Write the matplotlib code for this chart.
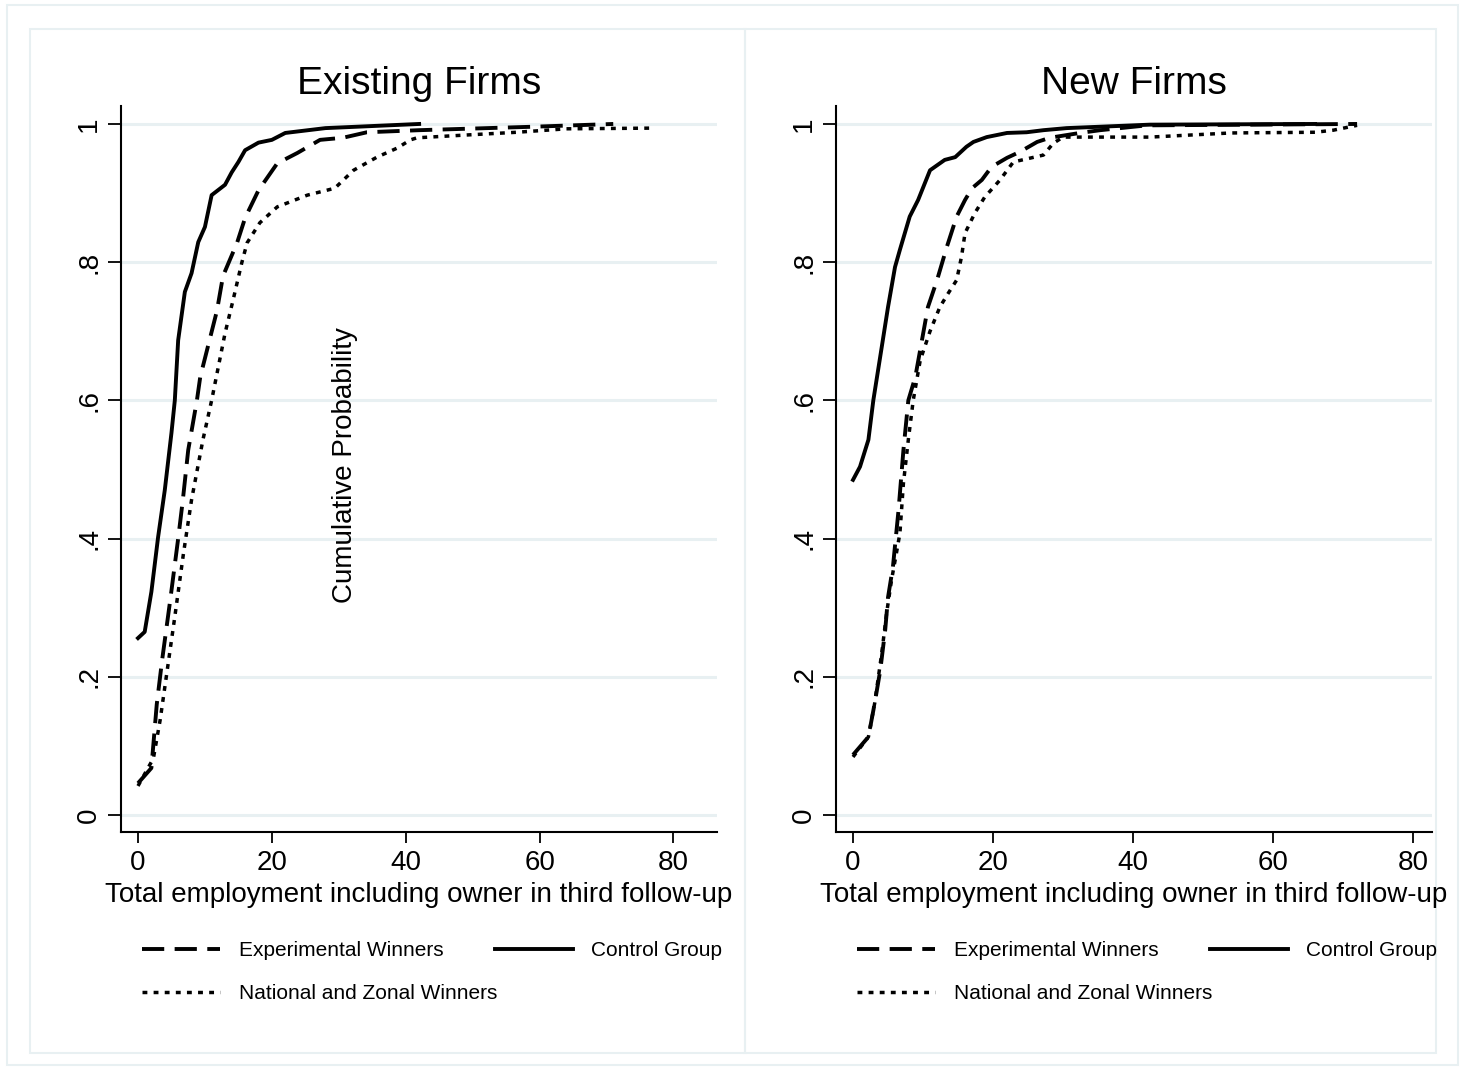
import matplotlib
matplotlib.use("Agg")
import matplotlib.pyplot as plt
from matplotlib.patches import Rectangle

plt.rcParams['font.family'] = ['Liberation Sans', 'DejaVu Sans']
plt.rcParams['lines.scale_dashes'] = False

# ---- data ----
ex_ctrl_x = [0, 1, 2, 3, 4, 5, 5.5, 6, 7, 8, 9, 10, 11, 13, 14, 15, 16, 18, 20, 22, 28, 42]
ex_ctrl_y = [0.256, 0.265, 0.323, 0.402, 0.47, 0.553, 0.60, 0.687, 0.757, 0.784, 0.829, 0.851,
             0.897, 0.912, 0.93, 0.945, 0.962, 0.973, 0.977, 0.987, 0.994, 1.0]
ex_exp_x = [0, 2, 2.8, 3.6, 4.8, 6, 6.7, 7.5, 8.8, 9.3, 11.8, 12.7, 14.8, 16, 18, 20.8, 23.8,
            27.2, 30.6, 34.2, 42, 59, 71]
ex_exp_y = [0.046, 0.068, 0.16, 0.224, 0.31, 0.40, 0.456, 0.528, 0.60, 0.634, 0.73, 0.78, 0.828,
            0.864, 0.904, 0.943, 0.958, 0.977, 0.98, 0.988, 0.991, 0.996, 1.0]
ex_nat_x = [0, 2.3, 3.3, 4.3, 5.5, 6.8, 8, 9.7, 11, 13, 14.2, 15.5, 16.3, 18.2, 20.8, 25.3, 29.4,
            32.2, 35.7, 38.7, 40.7, 41.7, 49, 56.6, 64, 77]
ex_nat_y = [0.042, 0.082, 0.137, 0.205, 0.287, 0.379, 0.456, 0.543, 0.60, 0.697, 0.745, 0.799,
            0.828, 0.857, 0.88, 0.897, 0.907, 0.933, 0.952, 0.965, 0.977, 0.98, 0.984, 0.988,
            0.993, 0.994]

new_ctrl_x = [0, 1, 2.2, 2.9, 4.1, 5, 6, 6.7, 8.1, 9.3, 11, 13.1, 14.6, 16.2, 17.2, 19.1, 22,
              24.8, 27.2, 30.5, 42.4, 66]
new_ctrl_y = [0.485, 0.504, 0.543, 0.60, 0.677, 0.735, 0.793, 0.818, 0.866, 0.89, 0.933, 0.948,
              0.952, 0.967, 0.974, 0.981, 0.987, 0.988, 0.991, 0.994, 0.999, 1.0]
new_exp_x = [0, 2.2, 3.1, 3.9, 4.6, 5, 5.7, 6.5, 7.2, 7.9, 8.9, 10.7, 12, 13.4, 14.8, 16, 17,
             18.4, 19.8, 22, 23.9, 26.3, 28.1, 32.4, 35.3, 42, 72]
new_exp_y = [0.087, 0.113, 0.162, 0.21, 0.268, 0.315, 0.359, 0.441, 0.528, 0.60, 0.634, 0.735,
             0.774, 0.822, 0.866, 0.89, 0.907, 0.919, 0.938, 0.951, 0.96, 0.974, 0.98, 0.987,
             0.991, 0.998, 1.0]
new_nat_x = [0, 2.2, 3.1, 4.1, 4.8, 5.5, 6.2, 6.7, 7.2, 7.9, 8.6, 9.6, 11, 12.4, 13.6, 14.8,
             15.5, 16, 17.4, 18.8, 21, 22.9, 27.2, 28.6, 30, 42.4, 54, 66, 68.6, 72]
new_nat_y = [0.084, 0.113, 0.162, 0.234, 0.292, 0.34, 0.379, 0.408, 0.48, 0.543, 0.60, 0.658,
             0.70, 0.735, 0.755, 0.774, 0.808, 0.842, 0.871, 0.894, 0.919, 0.945, 0.955, 0.972,
             0.981, 0.981, 0.987, 0.988, 0.991, 0.998]

yticks = [0, 0.2, 0.4, 0.6, 0.8, 1]
ytick_labels = ['0', '.2', '.4', '.6', '.8', '1']
xticks = [0, 20, 40, 60, 80]
lab_exp = 'Experimental Winners'
lab_ctrl = 'Control Group'
lab_nat = 'National and Zonal Winners'

W, H = 1465, 1070
grid_col = '#e8f0f2'
dash_style = (0, (16, 7.5))
dot_style = (0, (3.5, 4.5))

fig = plt.figure(figsize=(W / 100, H / 100), dpi=100)


def frame(x0, y0, x1, y1):
    fig.patches.append(Rectangle((x0 / W, 1 - y1 / H), (x1 - x0) / W, (y1 - y0) / H,
                                 transform=fig.transFigure, facecolor='none',
                                 edgecolor=grid_col, lw=1.5, zorder=-1))


frame(7, 5, 1458, 1065)
frame(30, 29, 745, 1053)
frame(745, 29, 1436, 1053)


def panel(left, xlim, title, exp, ctrl, nat, leg_x):
    ax = fig.add_axes([left / W, 1 - 832 / H, 596 / W, 726 / H])
    ax.patch.set_alpha(0)
    l_exp, = ax.plot(exp[0], exp[1], color='black', lw=2.8, ls=dash_style)
    l_ctrl, = ax.plot(ctrl[0], ctrl[1], color='black', lw=2.8)
    l_nat, = ax.plot(nat[0], nat[1], color='black', lw=2.5, ls=dot_style)
    ax.set_xlim(*xlim)
    ax.set_ylim(-0.0246, 1.026)
    for s in ['top', 'right']:
        ax.spines[s].set_visible(False)
    for s in ['left', 'bottom']:
        ax.spines[s].set_linewidth(1.5)
    ax.set_yticks(yticks)
    ax.set_yticklabels(ytick_labels, rotation=90, va='center')
    ax.set_xticks(xticks)
    ax.tick_params(axis='y', length=9.5, width=1.3, labelsize=20, pad=4)
    ax.tick_params(axis='x', length=8, width=1.3, labelsize=20, pad=5)
    ax.yaxis.grid(True, color=grid_col, lw=2.2)
    ax.set_axisbelow(True)
    ax.set_title(title, fontsize=28, pad=9)
    ax.set_xlabel('Total employment including owner in third follow-up', fontsize=20, labelpad=4)

    kw = dict(loc='upper left', frameon=False, fontsize=15, handlelength=3.75,
              handletextpad=0.9, borderpad=0, borderaxespad=0, bbox_transform=fig.transFigure)
    fig.legend([l_exp, l_ctrl], [lab_exp, lab_ctrl], ncol=2, columnspacing=2.45,
               bbox_to_anchor=(leg_x / W, 1 - 941 / H), **kw)
    fig.legend([l_nat], [lab_nat], bbox_to_anchor=(leg_x / W, 1 - 984 / H), **kw)
    return ax


ax1 = panel(121, (-2.54, 86.5), 'Existing Firms',
            (ex_exp_x, ex_exp_y), (ex_ctrl_x, ex_ctrl_y), (ex_nat_x, ex_nat_y), 142)
ax1.text(0.376, 0.505, 'Cumulative Probability', transform=ax1.transAxes, rotation=90,
         ha='center', va='center', fontsize=20)

ax2 = panel(836, (-2.43, 82.7), 'New Firms',
            (new_exp_x, new_exp_y), (new_ctrl_x, new_ctrl_y), (new_nat_x, new_nat_y), 857)

fig.savefig('out.png', dpi=100)
